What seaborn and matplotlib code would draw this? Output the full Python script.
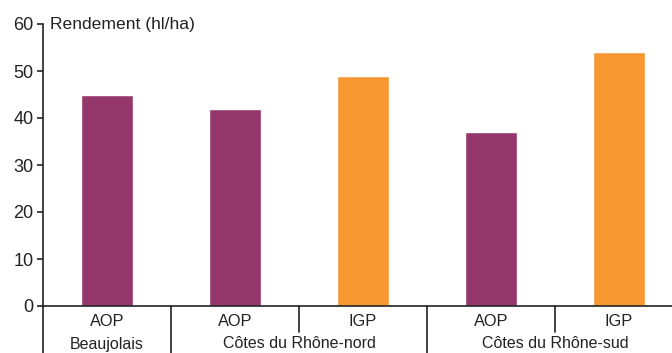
import matplotlib
matplotlib.use("Agg")
import matplotlib.pyplot as plt
import seaborn as sns
import pandas as pd

# Yield by appellation type and region
regions = ["Beaujolais", "Côtes du Rhône-nord", "Côtes du Rhône-nord", "Côtes du Rhône-sud", "Côtes du Rhône-sud"]
types = ["AOP", "AOP", "IGP", "AOP", "IGP"]
yields = [45, 42, 49, 37, 54]
y_ticks = [0, 10, 20, 30, 40, 50, 60]

colors = {"AOP": "#94376B", "IGP": "#F79830"}

df = pd.DataFrame({
    "slot": [f"{r}|{t}" for r, t in zip(regions, types)],
    "type": types,
    "yield": yields,
})

sns.set_style("white")
plt.rcParams["font.family"] = ["Liberation Sans", "DejaVu Sans"]

W, H = 672, 353
fig = plt.figure(figsize=(W / 100, H / 100), dpi=100)
ax = fig.add_axes([43 / W, 47 / H, 640 / W, 282 / H])

sns.barplot(data=df, x="slot", y="yield", hue="type", palette=colors,
            dodge=False, width=0.4, legend=False, ax=ax, saturation=1)

ax.set_xlim(-0.5, len(yields) - 0.5)
ax.set_ylim(0, 60)
ax.set_yticks(y_ticks)
ax.set_yticklabels([str(v) for v in y_ticks], fontsize=13, color="#222222")
ax.set_xticks([])
ax.set_xlabel("")
ax.set_ylabel("")

for side in ["top", "right"]:
    ax.spines[side].set_visible(False)
for side in ["left", "bottom"]:
    ax.spines[side].set_color("#222222")
    ax.spines[side].set_linewidth(1.2)
ax.tick_params(axis="y", direction="out", length=4, width=1.2, color="#222222", pad=3, left=True)

# Two-level category labels below the axis
trans = ax.get_xaxis_transform()
def px_to_axes_y(py):
    return (H - py - 47) / 282

row1 = px_to_axes_y(321)
row2 = px_to_axes_y(344)
for i, t in enumerate(types):
    ax.text(i, row1, t, transform=trans, ha="center", va="center", fontsize=11.8, color="#222222")

# Group labels centred over their slots
groups = []
for i, r in enumerate(regions):
    if groups and groups[-1][0] == r:
        groups[-1][2] = i
    else:
        groups.append([r, i, i])
for name, a, b in groups:
    ax.text((a + b) / 2, row2, name, transform=trans, ha="center", va="center", fontsize=11.5, color="#222222")

# Separators: full height between groups, short between types inside a group
bottom = px_to_axes_y(353)
short = px_to_axes_y(332)
for i in range(len(regions)):
    x = i - 0.5
    full = i == 0 or regions[i] != regions[i - 1]
    ax.plot([x, x], [0, bottom if full else short], transform=trans,
            color="#222222", lw=1.2, clip_on=False)

fig.text(50 / W, 1 - 24 / H, "Rendement (hl/ha)", ha="left", va="center",
         fontsize=12.6, color="#222222")

fig.savefig("out.png", dpi=100)
